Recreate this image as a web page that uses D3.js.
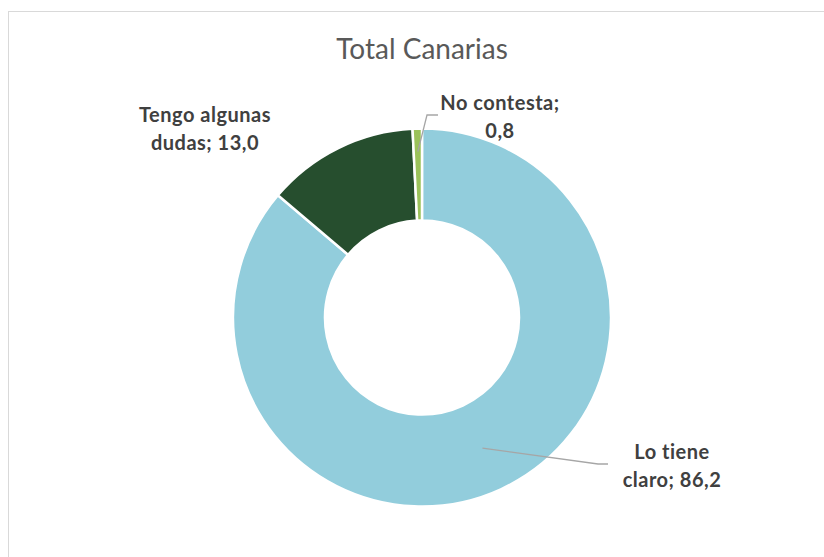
<!DOCTYPE html>
<html>
<head>
<meta charset="utf-8">
<script src="https://cdn.jsdelivr.net/npm/d3@7"></script>
<style>
  html, body { margin: 0; padding: 0; background: #fff; }
  svg { display: block; }
</style>
</head>
<body>
<svg id="chart" width="824" height="557"></svg>
<script>
// Respuestas, Total Canarias (%)
const categories = ["Lo tiene claro", "Tengo algunas dudas", "No contesta"];
const values = [86.2, 13.0, 0.8];
const colors = ["#92CDDC", "#264E2E", "#9BC25A"];
const labelLines = [["Lo tiene", "claro; 86,2"], ["Tengo algunas", "dudas; 13,0"], ["No contesta;", "0,8"]];

const svg = d3.select("#chart");
const cx = 422, cy = 317.5, rOuter = 189, rInner = 97;

// chart frame
svg.append("rect")
  .attr("x", 8.5).attr("y", 11.5)
  .attr("width", 840).attr("height", 580)
  .attr("fill", "none").attr("stroke", "#D9D9D9").attr("stroke-width", 1);

// title
svg.append("text")
  .attr("x", cx).attr("y", 59)
  .attr("text-anchor", "middle")
  .attr("font-family", "Lato, 'Open Sans', sans-serif")
  .attr("font-size", 28)
  .attr("fill", "#595959")
  .text("Total Canarias");

const data = categories.map((c, i) => ({ name: c, value: values[i], color: colors[i], lines: labelLines[i] }));

const pie = d3.pie().sort(null).value(d => d.value);
const arcs = pie(data);
const arc = d3.arc().innerRadius(rInner).outerRadius(rOuter);

const g = svg.append("g").attr("transform", `translate(${cx},${cy})`);
g.selectAll("path.slice")
  .data(arcs)
  .enter().append("path")
  .attr("class", "slice")
  .attr("d", arc)
  .attr("fill", d => d.data.color)
  .attr("stroke", "#fff")
  .attr("stroke-width", 2.5)
  .attr("stroke-linejoin", "miter");

// label positions and leader lines
const labelPos = [
  { x: 672, y: 459, line: { frac: 0.51, pts: [[598 - cx, 464 - cy], [608 - cx, 464 - cy]] } },
  { x: 205, y: 122, line: null },
  { x: 500, y: 110, line: { frac: 0.75, pts: [[427 - cx, 115 - cy], [438 - cx, 115 - cy]] } }
];

arcs.forEach((a, i) => {
  const p = labelPos[i];
  if (p.line) {
    const mid = (a.startAngle + a.endAngle) / 2;
    const rr = rInner + (rOuter - rInner) * p.line.frac;
    const start = [Math.sin(mid) * rr, -Math.cos(mid) * rr];
    g.append("path")
      .attr("d", d3.line()([start, ...p.line.pts]))
      .attr("fill", "none")
      .attr("stroke", "#A6A6A6")
      .attr("stroke-width", 1.3);
  }
  const t = svg.append("text")
    .attr("text-anchor", "middle")
    .attr("font-family", "Lato, 'Open Sans', sans-serif")
    .attr("font-weight", "bold")
    .attr("font-size", 20)
    .attr("letter-spacing", 0.5)
    .attr("fill", "#404040");
  a.data.lines.forEach((ln, k) => {
    t.append("tspan").attr("x", p.x).attr("y", p.y + k * 28).text(ln);
  });
});
</script>
</body>
</html>
